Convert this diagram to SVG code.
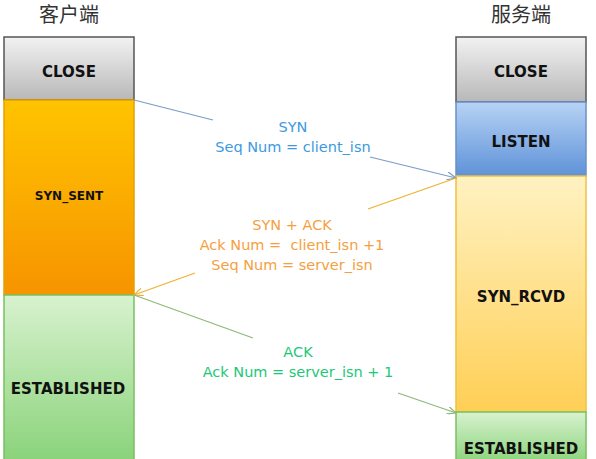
<svg xmlns="http://www.w3.org/2000/svg" width="596" height="459" viewBox="0 0 596 459">
<defs>
<linearGradient id="gGray" x1="0" y1="0" x2="0" y2="1"><stop offset="0" stop-color="#f2f2f2"/><stop offset="1" stop-color="#b8b8b8"/></linearGradient>
<linearGradient id="gOrange" x1="0" y1="0" x2="0" y2="1"><stop offset="0" stop-color="#ffc400"/><stop offset="1" stop-color="#f79400"/></linearGradient>
<linearGradient id="gBlue" x1="0" y1="0" x2="0" y2="1"><stop offset="0" stop-color="#b7d3f5"/><stop offset="1" stop-color="#5e92d8"/></linearGradient>
<linearGradient id="gYellow" x1="0" y1="0" x2="0" y2="1"><stop offset="0" stop-color="#fff2c2"/><stop offset="1" stop-color="#ffcf55"/></linearGradient>
<linearGradient id="gGreen" x1="0" y1="0" x2="0" y2="1"><stop offset="0" stop-color="#d8f2cf"/><stop offset="1" stop-color="#88d278"/></linearGradient>
<marker id="mBlue" markerWidth="10" markerHeight="8" refX="9" refY="4" orient="auto" markerUnits="userSpaceOnUse"><path d="M0,0 L9,4 L0,8" fill="none" stroke="#7a9cc8" stroke-width="1.2"/></marker>
<marker id="mOrange" markerWidth="10" markerHeight="8" refX="9" refY="4" orient="auto" markerUnits="userSpaceOnUse"><path d="M0,0 L9,4 L0,8" fill="none" stroke="#f0b030" stroke-width="1.2"/></marker>
<marker id="mGreen" markerWidth="10" markerHeight="8" refX="9" refY="4" orient="auto" markerUnits="userSpaceOnUse"><path d="M0,0 L9,4 L0,8" fill="none" stroke="#8fb878" stroke-width="1.2"/></marker>
</defs>
<style>
.title{font-family:"Noto Sans CJK SC","Noto Sans",sans-serif;font-size:20px;fill:#333;text-anchor:middle}
.state{font-family:"DejaVu Sans","Liberation Sans",sans-serif;font-size:15px;font-weight:bold;fill:#111;text-anchor:middle}
.box{stroke-width:1.5}
.msg{font-family:"DejaVu Sans","Liberation Sans",sans-serif;font-size:14.5px;text-anchor:middle}
</style>
<text class="title" x="69" y="22">客户端</text>
<text class="title" x="521" y="22">服务端</text>
<g id="c_close"><rect class="box" x="4" y="37" width="130" height="63" fill="url(#gGray)" stroke="#555"/><text class="state" x="69" y="77">CLOSE</text></g>
<g id="c_synsent"><rect class="box" x="4" y="100" width="130" height="195" fill="url(#gOrange)" stroke="#e6a000"/><text class="state" x="69" y="200" style="font-size:12px">SYN_SENT</text></g>
<g id="c_est"><rect class="box" x="4" y="295" width="130" height="170" fill="url(#gGreen)" stroke="#78c060"/><text class="state" x="68" y="394">ESTABLISHED</text></g>
<g id="s_close"><rect class="box" x="456" y="37" width="130" height="65" fill="url(#gGray)" stroke="#555"/><text class="state" x="521" y="77">CLOSE</text></g>
<g id="s_listen"><rect class="box" x="456" y="102" width="130" height="74" fill="url(#gBlue)" stroke="#6a90c8"/><text class="state" x="521" y="147">LISTEN</text></g>
<g id="s_synrcvd"><rect class="box" x="456" y="176" width="130" height="236" fill="url(#gYellow)" stroke="#f0c040"/><text class="state" x="521" y="302">SYN_RCVD</text></g>
<g id="s_est"><rect class="box" x="456" y="412" width="130" height="53" fill="url(#gGreen)" stroke="#78c060"/><text class="state" x="521" y="454">ESTABLISHED</text></g>
<g id="connectors" fill="none" stroke-width="1.2">
<path d="M134,100 L213,120" stroke="#7a9cc8"/>
<path d="M370,157 L456,178" stroke="#7a9cc8" marker-end="url(#mBlue)"/>
<path d="M456,178 L368,209" stroke="#f0b030"/>
<path d="M195,273 L134,295" stroke="#f0b030" marker-end="url(#mOrange)"/>
<path d="M134,295 L253,338" stroke="#8fb878"/>
<path d="M398,393 L456,413" stroke="#8fb878" marker-end="url(#mGreen)"/>
</g>
<g id="labels">
<text class="msg" x="293" y="132" fill="#3d9ae0">SYN</text>
<text class="msg" x="293" y="152" fill="#3d9ae0">Seq Num = client_isn</text>
<text class="msg" x="292" y="230" fill="#f5a040">SYN + ACK</text>
<text class="msg" x="292" y="250" fill="#f5a040" xml:space="preserve">Ack Num =  client_isn +1</text>
<text class="msg" x="292" y="270" fill="#f5a040">Seq Num = server_isn</text>
<text class="msg" x="298" y="357" fill="#1cc878">ACK</text>
<text class="msg" x="298" y="377" fill="#1cc878">Ack Num = server_isn + 1</text>
</g>
</svg>
